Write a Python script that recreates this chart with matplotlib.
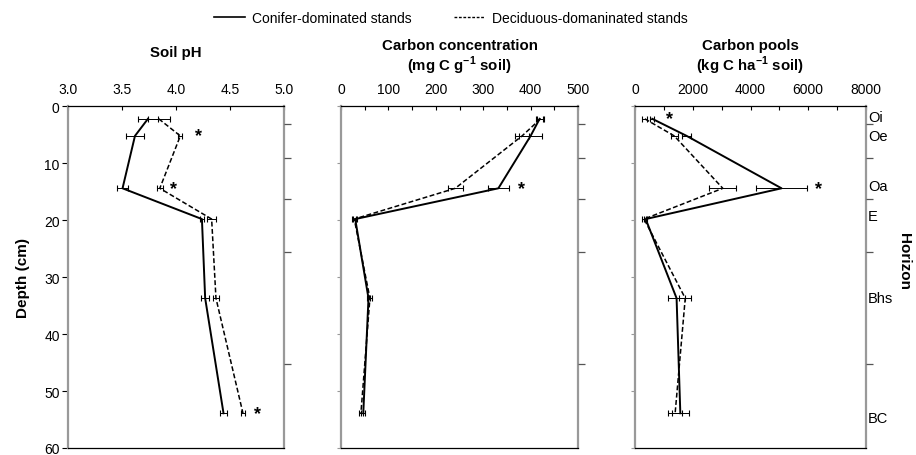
import matplotlib
matplotlib.use("Agg")
import matplotlib.pyplot as plt
from matplotlib.lines import Line2D
from matplotlib.ticker import MultipleLocator, NullFormatter

plt.rcParams['font.family'] = ['Liberation Sans', 'DejaVu Sans']

# ---------------- data ----------------
depth = [2.2, 5.2, 14.4, 19.8, 33.7, 53.9]

ph_con = [3.74, 3.62, 3.505, 4.24, 4.27, 4.44]
ph_con_err = [0.09, 0.08, 0.055, 0.015, 0.035, 0.03]
ph_dec = [3.84, 4.04, 3.85, 4.33, 4.37, 4.62]
ph_dec_err = [0.10, 0.02, 0.025, 0.04, 0.03, 0.02]
ph_star_x = [4.21, 3.98, 4.75]
ph_star_d = [5.2, 14.4, 54.0]

cc_con = [419, 400, 332, 30, 58, 47]
cc_con_err = [8, 25, 22, 4, 4, 4]
cc_dec = [421, 382, 241, 28, 61, 42]
cc_dec_err = [8, 15, 16, 4, 4, 4]
cc_star_x = [381]
cc_star_d = [14.4]

cp_con = [600, 1790, 5075, 370, 1440, 1570]
cp_con_err = [70, 150, 870, 60, 290, 290]
cp_dec = [340, 1360, 3040, 315, 1740, 1390]
cp_dec_err = [90, 120, 460, 60, 215, 230]
cp_star_x = [1185, 6350]
cp_star_d = [2.2, 14.4]

horizons = ['Oi', 'Oe', 'Oa', 'E', 'Bhs', 'BC']
horizon_label_depth = [1.8, 5.2, 14.0, 19.2, 33.6, 54.8]
horizon_bounds = [3.1, 9.0, 16.3, 25.6, 45.2]

legend_labels = ['Conifer-dominated stands', 'Deciduous-domaninated stands']

panels = [
    dict(title='Soil pH', title_y=53, xlim=(3.0, 5.0), major=0.5, minor=0.5, fmt='{:.1f}',
         con=ph_con, cerr=ph_con_err, dec=ph_dec, derr=ph_dec_err,
         sx=ph_star_x, sd=ph_star_d),
    dict(title='Carbon concentration\n(mg C g$^{\\mathregular{-1}}$ soil)', title_y=58,
         xlim=(0, 500), major=100, minor=50, fmt='{:.0f}',
         con=cc_con, cerr=cc_con_err, dec=cc_dec, derr=cc_dec_err,
         sx=cc_star_x, sd=cc_star_d),
    dict(title='Carbon pools\n(kg C ha$^{\\mathregular{-1}}$ soil)', title_y=58,
         xlim=(0, 8000), major=2000, minor=1000, fmt='{:.0f}',
         con=cp_con, cerr=cp_con_err, dec=cp_dec, derr=cp_dec_err,
         sx=cp_star_x, sd=cp_star_d),
]

W, H = 916, 456
fig = plt.figure(figsize=(W / 100, H / 100), dpi=100)

boxes = [(68, 284), (341, 578), (635, 866)]
top_px, bot_px = 107.3, 449

gray = '#999999'
dash = (0, (3.2, 1.6))

for i, (p, (x0, x1)) in enumerate(zip(panels, boxes)):
    ax = fig.add_axes([x0 / W, 1 - bot_px / H, (x1 - x0) / W, (bot_px - top_px) / H])
    ax.set_xlim(*p['xlim'])
    ax.set_ylim(60, 0)

    ax.plot(p['con'], depth, color='black', lw=1.4, zorder=3)
    ax.plot(p['dec'], depth, color='black', lw=1.1, linestyle=dash, zorder=3)
    ax.errorbar(p['con'], depth, xerr=p['cerr'], fmt='none', ecolor='black',
                elinewidth=0.7, capsize=2.5, capthick=0.8, zorder=2)
    ax.errorbar(p['dec'], depth, xerr=p['derr'], fmt='none', ecolor='black',
                elinewidth=0.7, capsize=2.5, capthick=0.8, zorder=2)
    for sx, sd in zip(p['sx'], p['sd']):
        ax.text(sx, sd, '*', ha='center', va='center', fontsize=13,
                fontweight='bold')

    # x axis on top
    ax.xaxis.tick_top()
    ax.xaxis.set_major_locator(MultipleLocator(p['major']))
    ax.xaxis.set_minor_locator(MultipleLocator(p['minor']))
    ax.xaxis.set_major_formatter(lambda v, pos, f=p['fmt']: f.format(v))
    ax.tick_params(axis='x', which='both', direction='in', length=3, width=0.8,
                   labelsize=10, pad=7.5, colors='black')
    fig.text((x0 + x1) / 2 / W, 1 - p['title_y'] / H, p['title'], ha='center',
             va='center', fontsize=10.8, fontweight='bold', linespacing=1.15)

    # y axis
    ax.yaxis.set_major_locator(MultipleLocator(10))
    if i == 0:
        ax.tick_params(axis='y', direction='out', length=4, width=0.8,
                       labelsize=10, color='black', pad=2)
        ax.set_ylabel('Depth (cm)', fontsize=11, fontweight='bold', labelpad=10)
    else:
        ax.yaxis.set_major_formatter(NullFormatter())
        ax.tick_params(axis='y', direction='out', length=3, width=0.8, color=gray)

    ax.spines['top'].set_color('black')
    ax.spines['top'].set_linewidth(0.9)
    ax.spines['bottom'].set_color('black')
    ax.spines['bottom'].set_linewidth(0.9)
    ax.spines['left'].set_color(gray)
    ax.spines['left'].set_linewidth(1.6)
    ax.spines['right'].set_color(gray)
    ax.spines['right'].set_linewidth(1.6)

    # right-hand horizon boundary ticks
    tw = ax.twinx()
    tw.set_ylim(60, 0)
    tw.set_yticks(horizon_bounds)
    tw.yaxis.set_major_formatter(NullFormatter())
    tw.tick_params(axis='y', direction='out', length=5, width=0.9, color='#555555')
    for s in tw.spines.values():
        s.set_visible(False)

    if i == 2:
        for name, d in zip(horizons, horizon_label_depth):
            ax.text(1.008, d, name, transform=ax.get_yaxis_transform(),
                    ha='left', va='center', fontsize=10.5)
        ax.text(1.165, 0.55, 'Horizon', transform=ax.transAxes, rotation=270,
                ha='center', va='center', fontsize=11, fontweight='bold')

handles = [Line2D([], [], color='black', lw=1.2),
           Line2D([], [], color='black', lw=1.0, linestyle=(0, (2, 1.2)))]
fig.legend(handles, legend_labels, loc='center', bbox_to_anchor=(451 / W, 1 - 19 / H),
           ncol=2, frameon=False, fontsize=10, handlelength=2.2, handletextpad=0.55,
           columnspacing=3.0, borderpad=0, borderaxespad=0)

fig.savefig('out.png', dpi=100)
